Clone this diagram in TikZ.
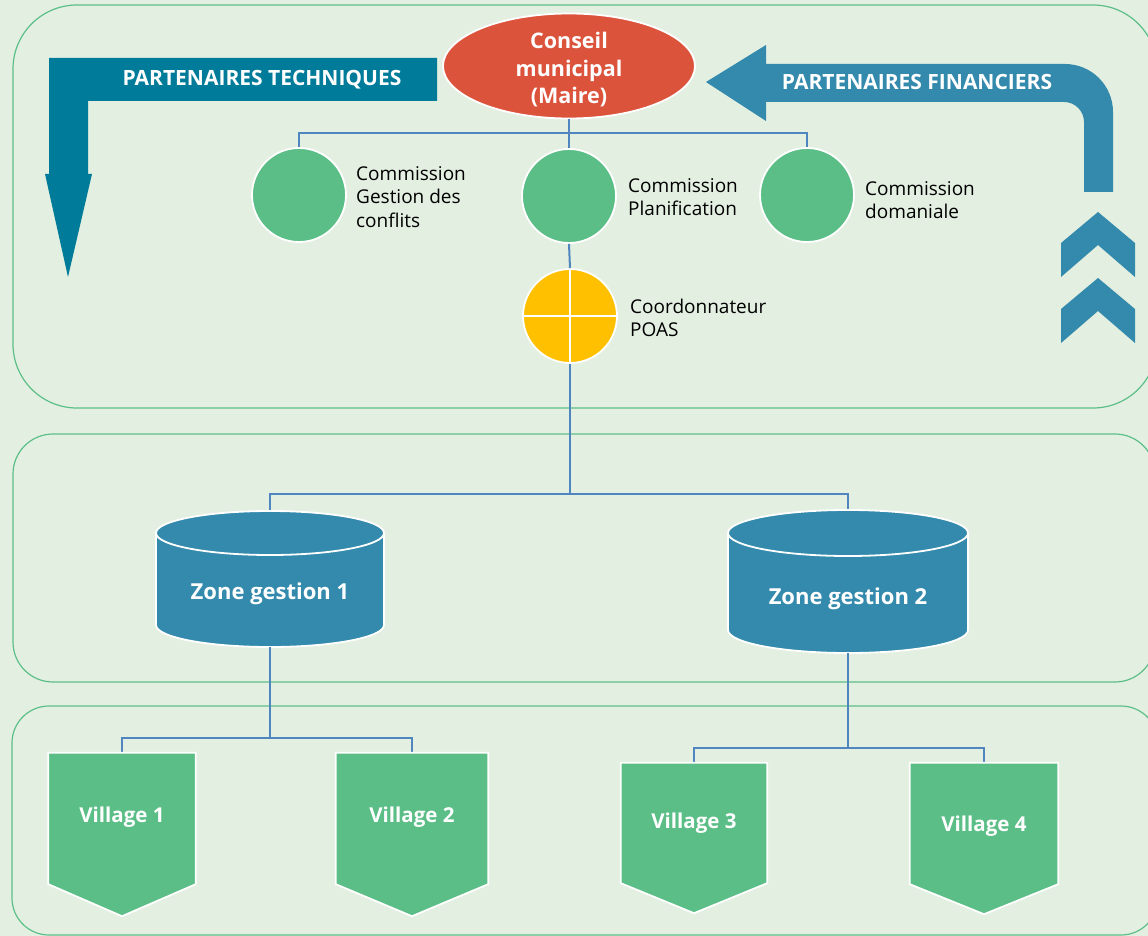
\documentclass[tikz,border=0pt]{standalone}
\usepackage{fontspec}
\setmainfont{Open Sans}
\usetikzlibrary{shapes.geometric}
\definecolor{bgc}{HTML}{E3EFE1}
\definecolor{panelc}{HTML}{5DBF88}
\definecolor{linkc}{HTML}{4F86C0}
\definecolor{greenc}{HTML}{5ABE86}
\definecolor{redc}{HTML}{DC533B}
\definecolor{yelc}{HTML}{FFC000}
\definecolor{tealc}{HTML}{007C9A}
\definecolor{bluec}{HTML}{338AAC}
\tikzset{
  panel/.style={draw=panelc, line width=1.2pt},
  link/.style={draw=linkc, line width=2pt},
  commc/.style={circle, fill=greenc, draw=white, line width=1.8pt, minimum size=94pt, inner sep=0pt},
  lbl/.style={anchor=west, align=left, inner sep=0pt, font=\fontsize{19}{23.5}\selectfont},
  ttl/.style={text=white, inner sep=0pt, font=\fontsize{21}{25}\selectfont\bfseries},
  zonebox/.style={inner sep=0pt, minimum width=#1},
  vbox/.style={inner sep=0pt, minimum height=163pt},
  vtext/.style={text=white, inner sep=0pt, font=\fontsize{20.5}{24}\selectfont\bfseries},
  ztext/.style={text=white, inner sep=0pt, font=\fontsize{22}{26}\selectfont\bfseries},
}
\begin{document}
\begin{tikzpicture}[x=1pt,y=-1pt]
\clip (0,0) rectangle (1148,936);
\fill[bgc] (0,0) rectangle (1148,936);
% panels
\draw[panel, rounded corners=64pt] (13,5) rectangle (1157,408);
\draw[panel, rounded corners=40pt] (13,434) rectangle (1155,682);
\draw[panel, rounded corners=37pt] (12,706) rectangle (1158,935);

% partenaires techniques arrow
\fill[tealc] (437,58) -- (49,58) -- (49,174) -- (45,174) -- (68,277) -- (92,174) -- (88,174) -- (88,101) -- (437,101) -- cycle;
\node[ttl] (pt) at (262,80) {PARTENAIRES TECHNIQUES};

% partenaires financiers arrow
\fill[bluec] (706,82) -- (766,45) -- (766,64) -- (1065,64) arc[start angle=-90, end angle=0, radius=48] -- (1113,192) -- (1084,192) -- (1084,122) arc[start angle=0, end angle=-90, radius=20] -- (766,102) -- (766,121) -- cycle;
\node[ttl] (pf) at (917,82) {PARTENAIRES FINANCIERS};

% chevrons
\foreach \dy in {0,66}{
  \fill[bluec] (1061,243+\dy) -- (1098,212+\dy) -- (1135,243+\dy) -- (1135,277+\dy) -- (1098,245+\dy) -- (1061,277+\dy) -- cycle;
}

% top level
\node[ellipse, fill=redc, draw=white, line width=1.8pt, minimum width=252pt, minimum height=105pt, inner sep=0pt] (cm) at (569,66) {};
\node[align=center, text=white, inner sep=0pt, font=\fontsize{21.5}{27.5}\selectfont\bfseries] (cmt) at (569,70) {Conseil\\municipal\\(Maire)};
\node[commc] (c1) at (299,195) {};
\node[commc] (c2) at (569,196) {};
\node[commc] (c3) at (807,195) {};
\coordinate (bus1) at (569,133);
\draw[link] (cm.south) -- (bus1);
\draw[link] (c1.north) |- (bus1) -| (c3.north);
\draw[link] (bus1) -- (c2.north);

\node[lbl] (t1) at (356,197) {Commission\\Gestion des\\conflits};
\node[lbl] (t2) at (628,197) {Commission\\Planification};
\node[lbl] (t3) at (865,200) {Commission\\domaniale};

% coordonnateur
\node[circle, fill=yelc, draw=white, line width=1.8pt, minimum size=94pt, inner sep=0pt] (co) at (570,316) {};
\draw[white, line width=1.8pt] (co.north) -- (co.south) (co.west) -- (co.east);
\draw[link] (c2.south) -- (co.north);
\node[lbl] (t4) at (630,318) {Coordonnateur\\POAS};

% zones
\node[zonebox=228pt, minimum height=136pt] (z1) at (270,579) {};
\node[zonebox=240pt, minimum height=143pt] (z2) at (848,581.5) {};
\coordinate (bus2) at (570,494);
\draw[link] (co.south) -- (bus2);
\draw[link] (z1.north) |- (bus2) -| (z2.north);

\fill[bluec, draw=white, line width=1.8pt] (156,533) -- (156,625) arc[start angle=180, end angle=0, x radius=114, y radius=22] -- (384,533) arc[start angle=0, end angle=-180, x radius=114, y radius=22] -- cycle;
\draw[white, line width=1.8pt] (156,533) arc[start angle=180, end angle=0, x radius=114, y radius=22];
\node[ztext] (zt1) at (270,594) {Zone gestion 1};

\fill[bluec, draw=white, line width=1.8pt] (728,533) -- (728,630) arc[start angle=180, end angle=0, x radius=120, y radius=23] -- (968,533) arc[start angle=0, end angle=-180, x radius=120, y radius=23] -- cycle;
\draw[white, line width=1.8pt] (728,533) arc[start angle=180, end angle=0, x radius=120, y radius=23];
\node[ztext] (zt2) at (848,599) {Zone gestion 2};

% villages
\node[vbox, minimum width=147pt] (v1) at (122,834.5) {};
\node[vbox, minimum width=152pt] (v2) at (412,834.5) {};
\node[vbox, minimum width=146pt, minimum height=150pt] (v3) at (694,838) {};
\node[vbox, minimum width=148pt, minimum height=151pt] (v4) at (984,838.5) {};
\coordinate (bus3) at (270,738);
\coordinate (bus4) at (848,748);
\draw[link] (z1.south) -- (bus3);
\draw[link] (v1.north) |- (bus3) -| (v2.north);
\draw[link] (z2.south) -- (bus4);
\draw[link] (v3.north) |- (bus4) -| (v4.north);

\foreach \v/\d in {v1/32, v2/32, v3/30, v4/30}{
  \fill[greenc, draw=white, line width=1.8pt] (\v.north west) -- (\v.north east) -- ([yshift=\d pt]\v.south east) -- (\v.south) -- ([yshift=\d pt]\v.south west) -- cycle;
}
\node[vtext] (vt1) at (122,817) {Village 1};
\node[vtext] (vt2) at (412,817) {Village 2};
\node[vtext] (vt3) at (694,823) {Village 3};
\node[vtext] (vt4) at (984,826) {Village 4};
\end{tikzpicture}
\end{document}
